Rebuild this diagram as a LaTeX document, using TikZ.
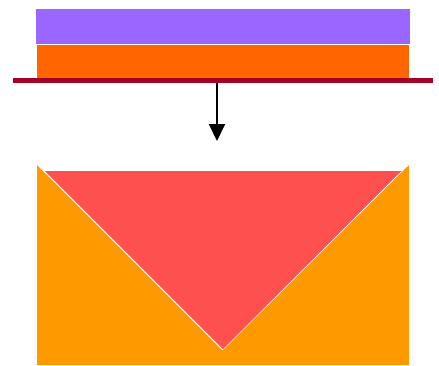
\documentclass[tikz,border=0pt]{standalone}
\usetikzlibrary{arrows.meta}
\definecolor{cpurple}{HTML}{9966FF}
\definecolor{corange}{HTML}{FF6600}
\definecolor{cdarkred}{HTML}{A50026}
\definecolor{camber}{HTML}{FF9900}
\definecolor{cred}{HTML}{FF5050}
\tikzset{
  layer/.style={draw=none},
  flow/.style={line width=2pt,-{Triangle[width=16pt,length=17pt]}}
}
\begin{document}
\begin{tikzpicture}[x=1pt,y=-1pt]
\useasboundingbox (0,0) rectangle (439,365);
% top stack
\fill[cpurple] (36,9) rectangle (410,44);
\fill[corange] (37,45) rectangle (409,79);
\fill[cdarkred] (13,78) rectangle (433,83);
% arrow
\coordinate (src) at (217,83);
\coordinate (dst) at (217,141);
\draw[flow] (src) -- (dst);
% bottom shape
\fill[camber] (37,165) -- (222.5,350.5) -- (409,165) -- (409,365) -- (37,365) -- cycle;
\fill[cred] (45,171) -- (401.5,171) -- (223,349) -- cycle;
\end{tikzpicture}
\end{document}
